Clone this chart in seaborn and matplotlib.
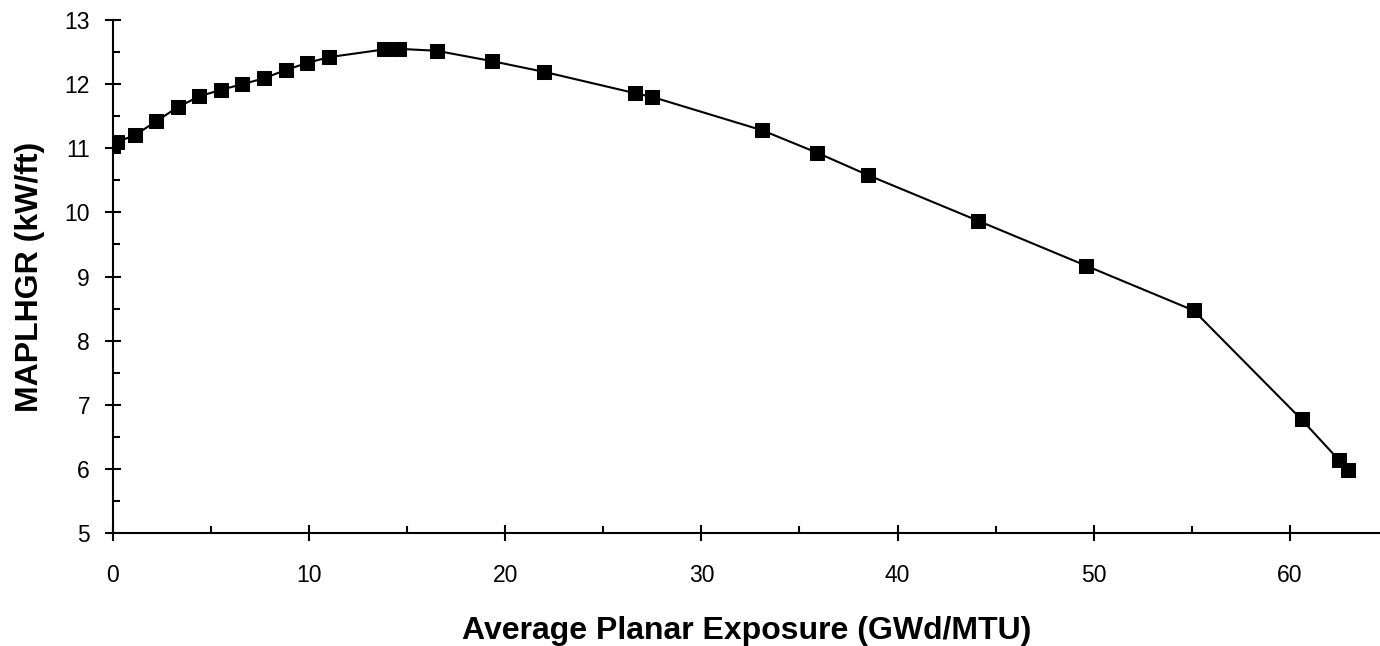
import numpy as np
import pandas as pd
import matplotlib
matplotlib.use("Agg")
import matplotlib.pyplot as plt
import seaborn as sns
from matplotlib.ticker import MultipleLocator

# values
exposure = [0.0, 0.2, 1.1, 2.2, 3.3, 4.4, 5.5, 6.6, 7.7, 8.8, 9.9, 11.0,
            13.8, 14.6, 16.5, 19.3, 22.0, 26.6, 27.5, 33.1, 35.9, 38.5,
            44.1, 49.6, 55.1, 60.6, 62.5, 62.95]
maplhgr = [11.03, 11.1, 11.2, 11.42, 11.64, 11.81, 11.91, 12.0, 12.09, 12.22,
           12.33, 12.42, 12.54, 12.55, 12.52, 12.36, 12.19, 11.86, 11.8, 11.28,
           10.93, 10.58, 9.87, 9.17, 8.47, 6.77, 6.14, 5.98]

df = pd.DataFrame({"exposure": exposure, "maplhgr": maplhgr})

sns.set_style("ticks")
plt.rcParams["font.family"] = ["Liberation Sans", "DejaVu Sans"]
plt.rcParams["text.color"] = "black"
plt.rcParams["axes.labelcolor"] = "black"

fig = plt.figure(figsize=(13.8, 6.46), dpi=100)
ax = fig.add_axes([113 / 1380, 1 - 533 / 646, 1 - 113 / 1380, 513 / 646])

sns.lineplot(data=df, x="exposure", y="maplhgr", ax=ax, color="black",
             marker="s", markersize=9.5, markeredgecolor="black",
             linewidth=1.5, estimator=None, sort=False)

ax.set_xlim(0, 64.6)
ax.set_ylim(5, 13)
ax.xaxis.set_major_locator(MultipleLocator(10))
ax.xaxis.set_minor_locator(MultipleLocator(5))
ax.yaxis.set_major_locator(MultipleLocator(1))
ax.yaxis.set_minor_locator(MultipleLocator(0.5))

for side in ["top", "right"]:
    ax.spines[side].set_visible(False)
for side in ["left", "bottom"]:
    ax.spines[side].set_linewidth(1.5)
    ax.spines[side].set_color("black")

ax.tick_params(axis="x", which="major", direction="inout", length=12,
               width=1.5, pad=16, labelsize=16.5, colors="black")
ax.tick_params(axis="y", which="major", direction="inout", length=11,
               width=1.5, pad=11, labelsize=16.5, colors="black")
ax.tick_params(which="minor", direction="in", length=5, width=1.5,
               colors="black")

ax.set_xlabel("Average Planar Exposure (GWd/MTU)", fontsize=23,
              fontweight="bold", labelpad=21)
ax.set_ylabel("MAPLHGR (kW/ft)", fontsize=23, fontweight="bold",
              labelpad=14)

fig.savefig("out.png", dpi=100)
